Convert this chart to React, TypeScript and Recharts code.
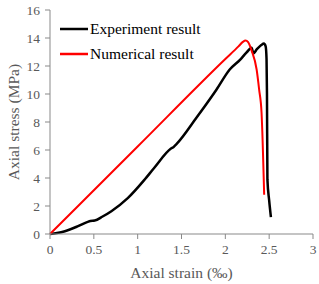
import { LineChart, Line, XAxis, YAxis, Legend } from 'recharts'

const FONT = '"Liberation Serif", "Times New Roman", serif'
const AXIS_COLOR = '#898989'
const TEXT_COLOR = '#595959'

// experiment curve (strain ‰, stress MPa)
const expStrain = [0, 0.08, 0.17, 0.32, 0.43, 0.46, 0.51, 0.6, 0.7, 0.89, 1.08, 1.19, 1.38, 1.41, 1.44, 1.67, 1.9, 2.05, 2.17, 2.24, 2.3, 2.32, 2.36, 2.41, 2.44, 2.46, 2.47, 2.475, 2.48, 2.5, 2.52]
const expStress = [0, 0.07, 0.2, 0.56, 0.87, 0.93, 0.96, 1.25, 1.63, 2.58, 3.89, 4.73, 6.1, 6.22, 6.4, 8.3, 10.32, 11.75, 12.46, 12.95, 13.3, 12.9, 13.2, 13.5, 13.6, 13.4, 12.5, 10, 3.9, 2.4, 1.2]

// numerical curve
const numStrain = [0, 1, 2, 2.15, 2.2, 2.23, 2.26, 2.3, 2.357, 2.386, 2.413, 2.443]
const numStress = [0, 6.25, 12.5, 13.4, 13.72, 13.82, 13.7, 13.1, 11.75, 10.3, 8.68, 2.8]

const xTicks = [0, 0.5, 1, 1.5, 2, 2.5, 3]
const yTicks = [0, 2, 4, 6, 8, 10, 12, 14, 16]

const expData = expStrain.map((x, i) => ({ x, y: expStress[i] }))
const numData = numStrain.map((x, i) => ({ x, y: numStress[i] }))

const tickStyle = { fill: TEXT_COLOR, fontSize: 13.5, fontFamily: FONT }

function LegendBox({ payload }: any) {
  return (
    <div style={{ fontFamily: FONT, fontSize: 15.5, color: '#000' }}>
      {(payload || []).map((p: any) => (
        <div key={p.value} style={{ display: 'flex', alignItems: 'center', height: 25 }}>
          <svg width={30} height={6} style={{ display: 'block' }}>
            <line x1={0} y1={3} x2={28} y2={3} stroke={p.color} strokeWidth={2.5} />
          </svg>
          <span style={{ whiteSpace: 'nowrap' }}>{p.value}</span>
        </div>
      ))}
    </div>
  )
}

export default function App() {
  return (
    <div style={{ position: 'fixed', left: 0, top: 0, background: '#fff' }}>
      <LineChart width={319} height={284} margin={{ top: 10, right: 6, bottom: 0, left: 0 }}>
        <XAxis
          type="number"
          dataKey="x"
          domain={[0, 3]}
          ticks={xTicks}
          height={50}
          stroke={AXIS_COLOR}
          tickSize={5}
          tickMargin={5}
          tick={tickStyle}
          allowDuplicatedCategory={false}
          label={{
            content: ({ viewBox }: any) => (
              <text
                x={viewBox.x + viewBox.width / 2}
                y={viewBox.y + 38}
                textAnchor="middle"
                dominantBaseline="central"
                fontFamily={FONT}
                fontSize={15.5}
                fill={TEXT_COLOR}
              >
                Axial strain (‰)
              </text>
            ),
          }}
        />
        <YAxis
          type="number"
          dataKey="y"
          domain={[0, 16]}
          ticks={yTicks}
          width={50}
          stroke={AXIS_COLOR}
          tickSize={5}
          tickMargin={5}
          tick={tickStyle}
          label={{
            content: ({ viewBox }: any) => {
              const cx = 13
              const cy = viewBox.y + viewBox.height / 2
              return (
                <text
                  x={cx}
                  y={cy}
                  transform={`rotate(-90, ${cx}, ${cy})`}
                  textAnchor="middle"
                  dominantBaseline="central"
                  fontFamily={FONT}
                  fontSize={15.5}
                  fill={TEXT_COLOR}
                >
                  Axial stress (MPa)
                </text>
              )
            },
          }}
        />
        <Legend
          layout="vertical"
          align="center"
          verticalAlign="middle"
          wrapperStyle={{ left: 60, top: 16.5, width: 'auto' }}
          content={<LegendBox />}
        />
        <Line
          data={expData}
          dataKey="y"
          name="Experiment result"
          type="monotone"
          stroke="#000000"
          strokeWidth={2.5}
          dot={false}
          isAnimationActive={false}
        />
        <Line
          data={numData}
          dataKey="y"
          name="Numerical result"
          type="monotone"
          stroke="#ff0000"
          strokeWidth={2}
          dot={false}
          isAnimationActive={false}
        />
      </LineChart>
    </div>
  )
}
